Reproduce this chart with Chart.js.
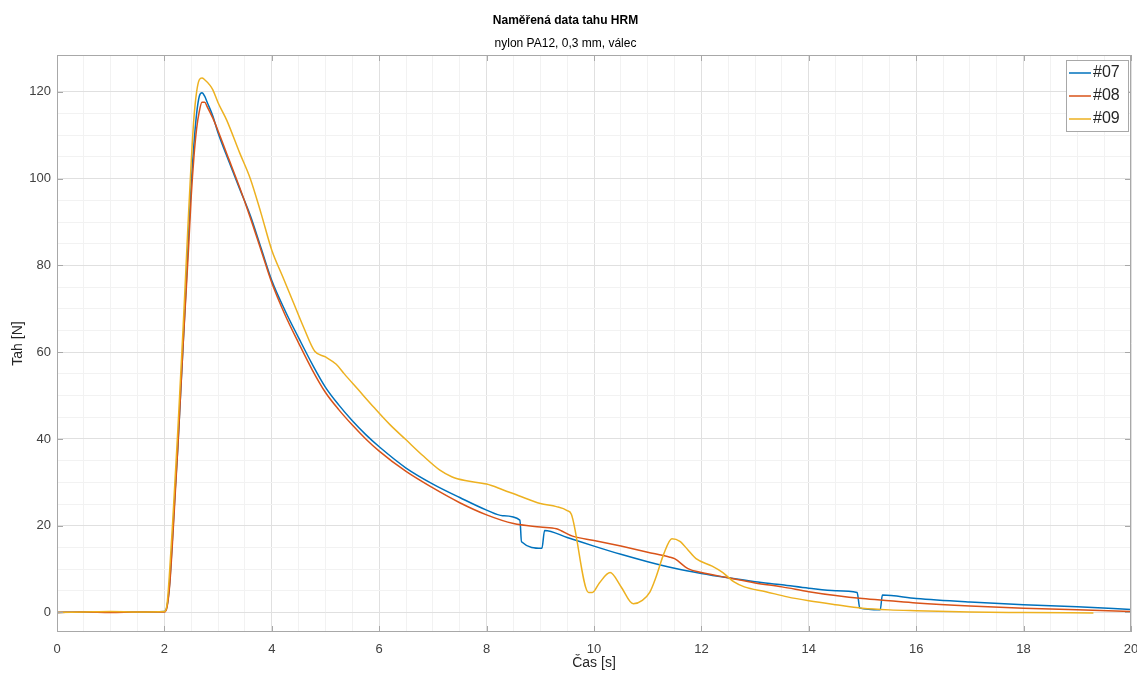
<!DOCTYPE html>
<html>
<head>
<meta charset="utf-8">
<title>Naměřená data tahu HRM</title>
<script src="https://cdn.jsdelivr.net/npm/chart.js@4/dist/chart.umd.min.js"></script>
<style>
  body { margin: 0; background: #fff; }
  canvas { display: block; }
</style>
</head>
<body>
<canvas id="graf" width="1137" height="675"></canvas>
<script>
// vzorky #07, #08, #09 (cas [s], tah [N])
const t07 = [0, 0.5, 1, 1.5, 2.0, 2.05, 2.1, 2.15, 2.2, 2.25, 2.3, 2.35, 2.4, 2.45, 2.5, 2.55, 2.6, 2.65, 2.7, 2.75, 2.8, 2.9, 3.0, 3.2, 3.4, 3.6, 3.8, 4.0, 4.25, 4.5, 4.75, 5.0, 5.25, 5.5, 5.75, 6.0, 6.5, 7.0, 7.5, 8.0, 8.3, 8.62, 8.65, 9.03, 9.08, 9.5, 10, 10.5, 11, 11.5, 12, 12.5, 13, 13.5, 14, 14.5, 14.9, 14.95, 15.33, 15.37, 16, 17, 18, 19, 20];
const v07 = [0, 0.1, 0.1, 0.1, 0.2, 1.5, 7, 17, 28, 38, 50, 62, 74, 87, 99, 108, 115, 119, 119.8, 119, 117.5, 114.5, 110.5, 104, 97.7, 91.5, 84, 76.5, 69.5, 63.3, 57.3, 51.9, 47.8, 44.2, 41.0, 38.2, 33.3, 29.6, 26.5, 23.6, 22.3, 21.3, 16.3, 14.8, 18.9, 17.3, 15.3, 13.4, 11.7, 10.2, 9.0, 8.0, 7.1, 6.4, 5.6, 5.0, 4.6, 1.0, 0.6, 4.0, 3.2, 2.4, 1.8, 1.3, 0.7];

const t08 = [0, 0.5, 1, 1.5, 2.0, 2.05, 2.1, 2.15, 2.2, 2.25, 2.3, 2.35, 2.4, 2.45, 2.5, 2.55, 2.6, 2.65, 2.7, 2.75, 2.8, 2.9, 3.0, 3.2, 3.4, 3.6, 3.8, 4.0, 4.25, 4.5, 4.75, 5.0, 5.25, 5.5, 5.75, 6.0, 6.5, 7.0, 7.5, 8.0, 8.5, 9.0, 9.3, 9.6, 10, 10.5, 11, 11.4, 11.5, 11.75, 12, 12.5, 13, 13.5, 14, 14.5, 15, 15.5, 16, 17, 18, 19, 20];
const v08 = [0, 0.1, 0, 0.1, 0.1, 1.3, 6.5, 16, 27, 38, 50, 62, 73, 84, 96, 105, 111.5, 115.5, 117.6, 117.6, 116.5, 114, 111, 104.5, 98, 91, 83.5, 76, 68.5, 62.1, 56, 50.7, 46.7, 43.2, 40.0, 37.2, 32.5, 28.7, 25.3, 22.5, 20.5, 19.7, 19.3, 17.6, 16.6, 15.3, 13.9, 12.8, 12.4, 10.1, 9.2, 8.0, 6.8, 5.9, 4.8, 3.9, 3.2, 2.7, 2.2, 1.5, 1.0, 0.6, 0.2];

const t09 = [0, 0.5, 1, 1.5, 2.0, 2.05, 2.1, 2.15, 2.2, 2.25, 2.3, 2.35, 2.4, 2.45, 2.5, 2.55, 2.6, 2.65, 2.7, 2.75, 2.85, 2.9, 3.0, 3.16, 3.4, 3.6, 3.8, 4.0, 4.2, 4.4, 4.6, 4.8, 5.0, 5.2, 5.35, 5.6, 5.9, 6.2, 6.5, 6.8, 7.13, 7.35, 7.6, 8.0, 8.3, 8.6, 9.0, 9.3, 9.5, 9.58, 9.9, 9.97, 10.1, 10.3, 10.5, 10.73, 10.9, 11.04, 11.15, 11.3, 11.45, 11.6, 11.75, 11.9, 12.2, 12.4, 12.6, 12.8, 13.2, 13.6, 14.0, 14.5, 15.0, 15.5, 16, 17, 18, 19.3];
const v09 = [0, 0.1, 0.2, 0.1, 0.2, 2, 10, 20, 31, 42, 54, 66, 79, 92, 104, 114, 120, 122.8, 123.2, 122.8, 121.5, 120.5, 117.5, 113.5, 106, 100, 92, 83.5, 77.5, 71.5, 65.5, 60.2, 58.9, 57.2, 55, 51.5, 47.3, 43.3, 39.8, 36.3, 32.8, 31.3, 30.4, 29.6, 28.3, 26.9, 25.1, 24.4, 23.5, 22.6, 4.6, 4.6, 6.8, 9.2, 6.0, 2.0, 2.8, 4.7, 8, 13.5, 17, 16.4, 14.4, 12.4, 10.7, 9.2, 7.1, 5.9, 4.8, 3.6, 2.7, 1.8, 1.0, 0.6, 0.4, 0.1, 0.0, -0.1];

const nazvy = ["#07", "#08", "#09"];
const barvy = ["#0072BD", "#D95319", "#EDB120"];

const xMin = 0, xMax = 20, xKrok = 2, xVedlejsi = 0.5;
const yMin = -4.5, yMax = 128.5, yKrok = 20, yVedlejsi = 5;

const pismo = "'Liberation Sans', Arial, sans-serif";
const barvaRamu = "#a8a8a8";

function body(t, v) {
  return t.map((x, i) => ({ x: x, y: v[i] }));
}

function jeNasobek(v, k) {
  return Math.abs(v / k - Math.round(v / k)) < 1e-6;
}

// MATLAB-like ram, vnitrni ticky a legenda
const ramPlugin = {
  id: "ram",
  afterDraw(chart) {
    const { ctx, chartArea: a, scales } = chart;
    ctx.save();
    ctx.strokeStyle = barvaRamu;
    ctx.lineWidth = 1;
    ctx.strokeRect(a.left + 0.5, a.top + 0.5, a.right - a.left - 1, a.bottom - a.top - 1);

    ctx.beginPath();
    scales.x.ticks.forEach(tk => {
      if (!jeNasobek(tk.value, xKrok)) return;
      const px = Math.round(scales.x.getPixelForValue(tk.value)) + 0.5;
      ctx.moveTo(px, a.bottom); ctx.lineTo(px, a.bottom - 6);
      ctx.moveTo(px, a.top); ctx.lineTo(px, a.top + 6);
    });
    scales.y.ticks.forEach(tk => {
      if (!jeNasobek(tk.value, yKrok)) return;
      const py = Math.round(scales.y.getPixelForValue(tk.value)) + 0.5;
      ctx.moveTo(a.left, py); ctx.lineTo(a.left + 6, py);
      ctx.moveTo(a.right, py); ctx.lineTo(a.right - 6, py);
    });
    ctx.stroke();

    // legenda
    const lx = a.right - 65, ly = a.top + 5, lw = 62, lh = 71;
    ctx.fillStyle = "#fff";
    ctx.fillRect(lx, ly, lw, lh);
    ctx.strokeStyle = barvaRamu;
    ctx.strokeRect(lx + 0.5, ly + 0.5, lw, lh);
    ctx.font = "16px " + pismo;
    ctx.textBaseline = "middle";
    nazvy.forEach((n, i) => {
      const y = ly + 13 + i * 23;
      ctx.strokeStyle = barvy[i];
      ctx.lineWidth = 1.5;
      ctx.beginPath();
      ctx.moveTo(lx + 3, y); ctx.lineTo(lx + 25, y);
      ctx.stroke();
      ctx.fillStyle = "#262626";
      ctx.fillText(n, lx + 27, y);
    });
    ctx.restore();
  }
};

const ctx = document.getElementById("graf").getContext("2d");

new Chart(ctx, {
  type: "line",
  data: {
    datasets: [
      { label: nazvy[0], data: body(t07, v07), borderColor: barvy[0], order: 3 },
      { label: nazvy[1], data: body(t08, v08), borderColor: barvy[1], order: 2 },
      { label: nazvy[2], data: body(t09, v09), borderColor: barvy[2], order: 1 }
    ]
  },
  options: {
    responsive: false,
    animation: false,
    devicePixelRatio: 1,
    layout: { padding: { left: 0, right: 6, top: 0, bottom: 0 } },
    elements: {
      point: { radius: 0 },
      line: { borderWidth: 1.5, cubicInterpolationMode: "monotone", fill: false, borderJoinStyle: "round" }
    },
    plugins: {
      legend: { display: false },
      tooltip: { enabled: false },
      title: {
        display: true,
        text: "Naměřená data tahu HRM",
        color: "#000",
        font: { family: pismo, size: 12, weight: "bold", lineHeight: 1.2 },
        padding: { top: 13, bottom: 9 }
      },
      subtitle: {
        display: true,
        text: "nylon PA12, 0,3 mm, válec",
        color: "#000",
        font: { family: pismo, size: 12, lineHeight: 1.2 },
        padding: { top: 0, bottom: 4.2 }
      }
    },
    scales: {
      x: {
        type: "linear",
        min: xMin,
        max: xMax,
        afterBuildTicks: s => { s.ticks = s.ticks.filter(t => jeNasobek(t.value, xVedlejsi)); },
        afterFit: s => { s.height = 43; s.paddingLeft = 0; s.paddingRight = 0; },
        ticks: {
          stepSize: xVedlejsi,
          autoSkip: false,
          maxRotation: 0,
          padding: 10,
          color: "#404040",
          font: { family: pismo, size: 13 },
          callback: v => jeNasobek(v, xKrok) ? v : ""
        },
        grid: {
          drawTicks: false,
          color: c => jeNasobek(c.tick.value, xKrok) ? "#e0e0e0" : "#f2f2f2"
        },
        border: { display: false },
        title: {
          display: true,
          text: "Čas [s]",
          color: "#262626",
          font: { family: pismo, size: 14, lineHeight: 1.2 },
          padding: { top: 0, bottom: 3 }
        }
      },
      y: {
        type: "linear",
        min: yMin,
        max: yMax,
        afterBuildTicks: s => { s.ticks = s.ticks.filter(t => jeNasobek(t.value, yVedlejsi)); },
        afterFit: s => { s.width = 57; s.paddingTop = 0; s.paddingBottom = 0; },
        ticks: {
          stepSize: yVedlejsi,
          autoSkip: false,
          padding: 6,
          color: "#404040",
          font: { family: pismo, size: 13 },
          callback: v => jeNasobek(v, yKrok) ? v : ""
        },
        grid: {
          drawTicks: false,
          color: c => jeNasobek(c.tick.value, yKrok) ? "#e0e0e0" : "#f2f2f2"
        },
        border: { display: false },
        title: {
          display: true,
          text: "Tah [N]",
          color: "#262626",
          font: { family: pismo, size: 14, lineHeight: 1.2 },
          padding: { top: 10, bottom: 0 }
        }
      }
    }
  },
  plugins: [ramPlugin]
});
</script>
</body>
</html>
